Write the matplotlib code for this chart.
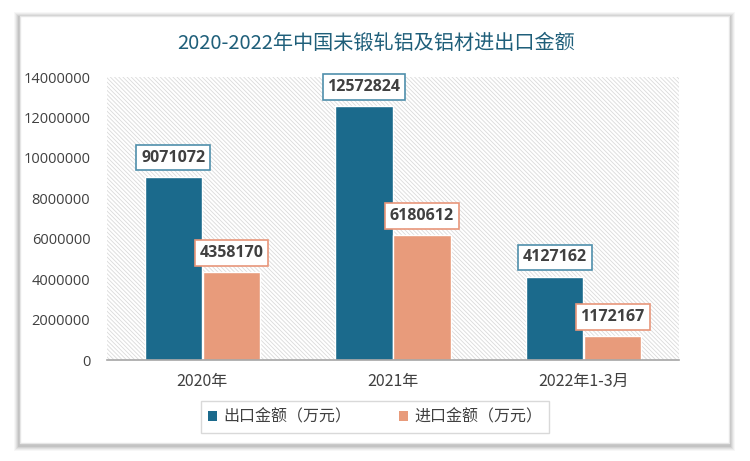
import matplotlib
matplotlib.use("Agg")
import matplotlib.pyplot as plt
from matplotlib.patches import Rectangle, Patch
from matplotlib.ticker import FuncFormatter
import numpy as np

plt.rcParams['font.family'] = ['Noto Sans CJK SC', 'DejaVu Sans']
plt.rcParams['hatch.color'] = '#d8d8d8'
plt.rcParams['hatch.linewidth'] = 0.6

categories = ['2020年', '2021年', '2022年1-3月']
export_vals = [9071072, 12572824, 4127162]
import_vals = [4358170, 6180612, 1172167]
series_names = ['出口金额（万元）', '进口金额（万元）']
yticks = [0, 2000000, 4000000, 6000000, 8000000, 10000000, 12000000, 14000000]

c_exp = '#1b6a8c'
c_imp = '#e89b7b'
c_exp_edge = '#4f8fab'
c_imp_edge = '#e8967a'

W, H = 750, 461
fig = plt.figure(figsize=(W / 100, H / 100), dpi=100)
fig.patch.set_facecolor('white')

def fr(x0, y0, x1, y1):
    return (x0 / W, 1 - y1 / H), (x1 - x0) / W, (y1 - y0) / H

for i, a in enumerate([0.03, 0.04, 0.05, 0.06, 0.07]):
    d = 6 - i
    xy, w, h = fr(20 - d, 16 - d + 2, 729 + d, 443 + d + 2)
    fig.add_artist(Rectangle(xy, w, h, transform=fig.transFigure,
                             facecolor='black', alpha=a, edgecolor='none', zorder=0))
xy, w, h = fr(20, 16, 729, 443)
fig.add_artist(Rectangle(xy, w, h, transform=fig.transFigure,
                         facecolor='white', edgecolor='#e6e6e6', linewidth=1, zorder=1))

ax = fig.add_axes([107 / W, 1 - 360 / H, (679 - 107) / W, (360 - 77) / H], zorder=2)
ax.set_facecolor('white')
ax.add_patch(Rectangle((0, 0), 1, 1, transform=ax.transAxes, facecolor='white',
                       edgecolor='#dadada', linewidth=0, hatch='\\' * 8, zorder=0))

x = np.arange(len(categories))
bw = 0.3
off = 0.152
b1 = ax.bar(x - off, export_vals, bw, color=c_exp, edgecolor='white', linewidth=1, zorder=3)
b2 = ax.bar(x + off, import_vals, bw, color=c_imp, edgecolor='white', linewidth=1, zorder=3)

for bars, col in ((b1, c_exp_edge), (b2, c_imp_edge)):
    for r in bars:
        v = r.get_height()
        ax.annotate(f'{int(v)}', xy=(r.get_x() + r.get_width() / 2, v),
                    xytext=(0, 8), textcoords='offset points', ha='center', va='bottom',
                    fontsize=11.5, fontweight='bold', color='#404040',
                    family=['Open Sans', 'DejaVu Sans'], zorder=5,
                    bbox=dict(boxstyle='square,pad=0.3', facecolor='white',
                              edgecolor=col, linewidth=1.2))

ax.set_xlim(-0.5, 2.5)
ax.set_ylim(0, 14000000)
ax.set_yticks(yticks)
ax.yaxis.set_major_formatter(FuncFormatter(lambda v, p: f'{int(v)}'))
ax.set_xticks(x)
ax.set_xticklabels(categories)
ax.tick_params(axis='y', length=0, pad=12, labelsize=10.5, labelcolor='#404040')
ax.tick_params(axis='x', length=0, pad=9, labelsize=11.5, labelcolor='#404040')
for lab in ax.get_yticklabels():
    lab.set_family(['Open Sans', 'DejaVu Sans'])
for s in ['top', 'right', 'left']:
    ax.spines[s].set_visible(False)
ax.spines['bottom'].set_color('#a6a6a6')
ax.spines['bottom'].set_linewidth(1.2)
ax.spines['bottom'].set_zorder(4)

fig.text(376 / W, 1 - 43 / H, '2020-2022年中国未锻轧铝及铝材进出口金额', ha='center', va='center',
         fontsize=14.5, color='#1f5f7a', zorder=3)

handles = [Patch(facecolor=c_exp), Patch(facecolor=c_imp)]
leg = fig.legend(handles, series_names, loc='center', bbox_to_anchor=(375 / W, 1 - 417 / H),
                 ncol=2, frameon=True, fancybox=False, fontsize=11.5,
                 handlelength=0.55, handleheight=0.55, handletextpad=0.4, columnspacing=3.0,
                 borderpad=0.45, borderaxespad=0)
leg.get_frame().set_edgecolor('#d0d0d0')
leg.get_frame().set_linewidth(1)
leg.set_zorder(5)
for t in leg.get_texts():
    t.set_color('#404040')

fig.savefig('out.png', dpi=100, facecolor='white')
